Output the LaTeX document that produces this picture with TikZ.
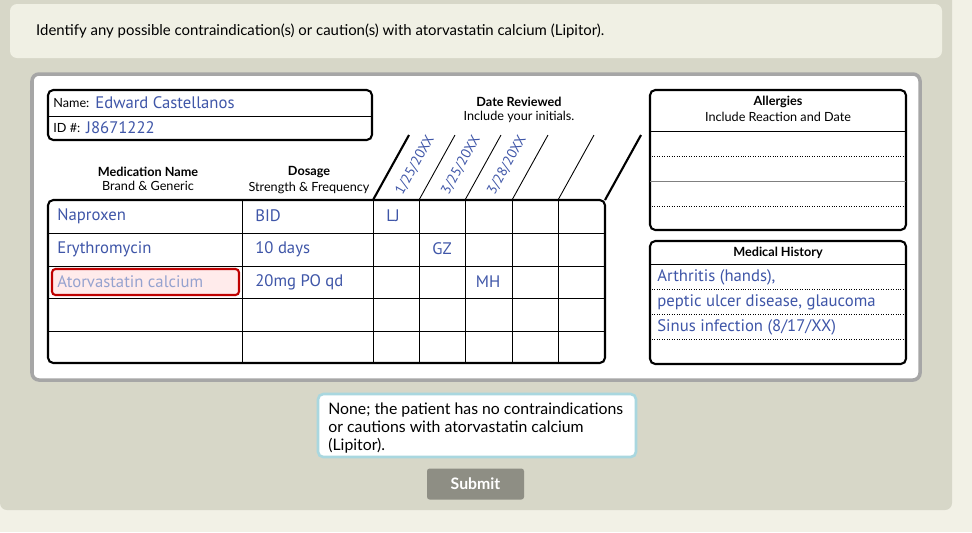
\documentclass[tikz,border=0pt]{standalone}
\usepackage{fontspec}
\setmainfont{Lato}
\newfontfamily\handfont{PT Sans}
\usetikzlibrary{positioning}
\definecolor{pagebg}{HTML}{F2F1E6}
\definecolor{panelbg}{HTML}{D7D7C8}
\definecolor{questbg}{HTML}{F0F0E4}
\definecolor{ink}{HTML}{3F56A8}
\definecolor{answerline}{HTML}{A9D7DF}
\definecolor{btngray}{HTML}{8E8E84}
\tikzset{
  hand/.style={font=\handfont\fontsize{9.5}{11}\selectfont, text=ink, anchor=west, inner sep=0pt},
  formlbl/.style={font=\fontsize{7.2}{8.5}\selectfont, inner sep=0pt},
  formhead/.style={font=\bfseries\fontsize{7.2}{8.5}\selectfont, inner sep=0pt},
  rule/.style={line width=0.5pt},
  dots/.style={densely dotted, line width=0.4pt},
  frame/.style={line width=1.2pt, rounded corners=3pt},
}
\begin{document}
\begin{tikzpicture}[x=0.02cm,y=-0.02cm]
  \useasboundingbox (0,0) rectangle (972,532);
  \fill[pagebg] (0,0) rectangle (972,532);
  \fill[panelbg, rounded corners=4pt] (0,-10) rectangle (952,510);
  \fill[questbg, rounded corners=4pt] (10,4) rectangle (942,58);
  \node[anchor=west, font=\fontsize{8.5}{10}\selectfont] (quest) at (30,31)
    {Identify any possible contraindication(s) or caution(s) with atorvastatin calcium (Lipitor).};

  % form card
  \draw[white, fill=white, rounded corners=4pt] (32,74) rectangle (920,380);
  \draw[gray!70, line width=2pt, rounded corners=4pt] (32,74) rectangle (920,380);

  % patient box
  \draw[frame] (48,90) rectangle (372,140);
  \draw[rule] (48,116) -- (372,116);
  \node[formlbl, anchor=west] (namelbl) at (53,103) {Name:};
  \node[hand, right=3pt of namelbl] (name) {Edward Castellanos};
  \node[formlbl, anchor=west] (idlbl) at (53,128) {ID \#:};
  \node[hand, right=3pt of idlbl] (id) {J8671222};

  \node[formhead] (datehead) at (519,102) {Date Reviewed};
  \node[formlbl, below=2pt of datehead] (datesub) {Include your initials.};

  \node[formhead] (medhead) at (148,172) {Medication Name};
  \node[formlbl, below=2pt of medhead] (medsub) {Brand \& Generic};
  \node[formhead] (dosehead) at (309,172) {Dosage};
  \node[formlbl, below=2pt of dosehead] (dosesub) {Strength \& Frequency};

  % medication table
  \draw[frame] (48,200) -- (605,200) -- (605,363) -- (48,363) -- cycle;
  \foreach \y in {233,266,298,331} \draw[rule] (48,\y) -- (605,\y);
  \foreach \x in {242,373,419,465,512,558} \draw[rule] (\x,200) -- (\x,363);
  \draw[line width=1.2pt] (373,200) -- (409,135);
  \draw[line width=1.2pt] (605,200) -- (641,135);
  \foreach \x in {419,465,512,558} \draw[rule] (\x,200) -- (\x+36,135);
  \foreach \x/\d in {415/{1/25/20XX},461/{3/25/20XX},507/{3/28/20XX}}
    \node[hand, anchor=center, rotate=61, font=\handfont\fontsize{8}{9}\selectfont] at (\x,165) {\d};

  % rows
  \fill[red!8, rounded corners=2pt] (52,269) rectangle (239,295);
  \draw[red!75!black, line width=1.2pt, rounded corners=2pt] (52,269) rectangle (239,295);
  \node[hand] (med1) at (57,216) {Naproxen};
  \node[hand] (med2) at (57,249) {Erythromycin};
  \node[hand, text=ink!55] (med3) at (57,282) {Atorvastatin calcium};
  \node[hand] (dose1) at (255,216) {BID};
  \node[hand] (dose2) at (255,249) {10 days};
  \node[hand] (dose3) at (255,282) {20mg PO qd};
  \node[hand, anchor=center] (init1) at (393,216) {LJ};
  \node[hand, anchor=center] (init2) at (442,249) {GZ};
  \node[hand, anchor=center] (init3) at (488,282) {MH};

  % allergies
  \draw[frame] (650,90) rectangle (906,230);
  \node[formhead] (allhead) at (778,102) {Allergies};
  \node[formlbl, below=2pt of allhead] (allsub) {Include Reaction and Date};
  \draw[rule] (650,131) -- (906,131);
  \draw[rule, gray] (650,181) -- (906,181);
  \draw[dots] (652,156) -- (904,156);
  \draw[dots] (652,206) -- (904,206);

  % medical history
  \draw[frame] (650,241) rectangle (906,364);
  \node[formhead] (histhead) at (778,253) {Medical History};
  \draw[rule] (650,264) -- (906,264);
  \foreach \y in {289,314,339} \draw[dots] (652,\y) -- (904,\y);
  \node[hand] (hist1) at (657,277) {Arthritis (hands),};
  \node[hand] (hist2) at (657,302) {peptic ulcer disease, glaucoma};
  \node[hand] (hist3) at (657,327) {Sinus infection (8/17/XX)};

  % answer and button
  \draw[answerline, fill=white, line width=1.5pt, rounded corners=3pt] (318,394) rectangle (636,457);
  \node[anchor=north west, align=left, inner sep=0pt, font=\fontsize{9}{10.5}\selectfont] (answer) at (328,402)
    {None; the patient has no contraindications\\or cautions with atorvastatin calcium\\(Lipitor).};
  \node[fill=btngray, text=white, font=\bfseries\fontsize{9}{11}\selectfont,
        minimum width=97*0.02cm, minimum height=31*0.02cm, rounded corners=1.5pt] (submit) at (475.5,484) {Submit};
\end{tikzpicture}
\end{document}
